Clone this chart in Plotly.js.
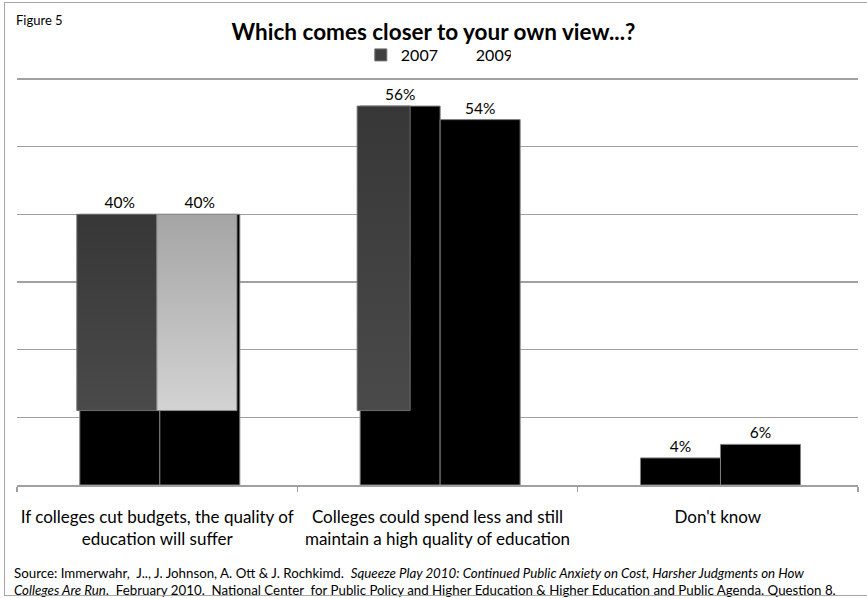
<!DOCTYPE html>
<html>
<head>
<meta charset="utf-8">
<script src="https://cdn.plot.ly/plotly-3.0.1.min.js"></script>
<style>
  html, body { margin: 0; padding: 0; background: #ffffff; overflow: hidden; }
  #frame { position: absolute; left: 4px; top: 2px; width: 900px; height: 592px;
           border-left: 1.5px solid #a6a6a6; border-top: 1.5px solid #a6a6a6; border-bottom: 1.5px solid #a6a6a6; pointer-events: none; z-index: 5; }
  #chart { position: absolute; left: 0; top: 0; width: 867px; height: 598px; }
</style>
</head>
<body>
<div id="chart"></div>
<div id="frame"></div>
<script>
// ---- data ----
const categories = [
  "If colleges cut budgets, the quality of<br>education will suffer",
  "Colleges could spend less and still<br>maintain a high quality of education",
  "Don't know"
];
const values2007 = [40, 56, 4];
const values2009 = [40, 54, 6];
const labels2007 = ["40%", "56%", "4%"];
const labels2009 = ["40%", "54%", "6%"];
// grey face panels visible in the original rendering (top value of each panel)
const face2007 = [40, 56, null];
const face2009 = [40, null, null];
const faceBase = 11;
const gridVals = [0, 10, 20, 30, 40, 50, 60];

const FONT = "Lato, 'Open Sans', 'DejaVu Sans', sans-serif";
const BW = 0.2854;
const heightAbove = (arr) => arr.map(v => (v == null ? null : v - faceBase));

const mainBar = (name, vals, txt, off) => ({
  type: 'bar', name: name, x: categories, y: vals,
  offset: off, width: BW,
  marker: { color: '#000000', line: { color: '#7f7f7f', width: 1 } },
  text: txt, textposition: 'outside', cliponaxis: false,
  textfont: { family: FONT, size: 15.5, color: '#000000' },
  showlegend: false, hoverinfo: 'skip'
});

const data = [
  mainBar('2007', values2007, labels2007, -0.276),
  mainBar('2009', values2009, labels2009, 0.0094),
  {
    type: 'bar', name: '2007', x: categories, y: heightAbove(face2007), base: faceBase,
    offset: -0.2865, width: [BW, 0.189, BW],
    marker: { color: '#404040', line: { color: '#6e6e6e', width: 1 } },
    showlegend: true, hoverinfo: 'skip'
  },
  {
    type: 'bar', name: '2009', x: categories, y: heightAbove(face2009), base: faceBase,
    offset: -0.001, width: BW,
    marker: { color: 'rgba(255,255,255,0)', line: { color: 'rgba(0,0,0,0)', width: 0 } },
    showlegend: true, hoverinfo: 'skip'
  }
];

const layout = {
  width: 867, height: 598,
  margin: { l: 17, r: 9, t: 78, b: 113 },
  paper_bgcolor: '#ffffff', plot_bgcolor: '#ffffff',
  barmode: 'overlay',
  font: { family: FONT, color: '#000000' },
  title: {
    text: '<b>Which comes closer to your own view...?</b>',
    font: { family: FONT, size: 22.5, color: '#000000' },
    x: 0.5, xref: 'container', xanchor: 'center',
    y: 1 - 32 / 598, yref: 'container', yanchor: 'middle'
  },
  showlegend: true,
  legend: {
    orientation: 'h', x: 0.498, xanchor: 'center', xref: 'paper',
    y: 1 + (78 - 55) / 407, yanchor: 'middle',
    font: { family: FONT, size: 16, color: '#000000' },
    itemwidth: 30, entrywidth: 30, entrywidthmode: 'pixels',
    traceorder: 'normal', bgcolor: 'rgba(0,0,0,0)'
  },
  xaxis: {
    type: 'category', range: [-0.5, 2.5], fixedrange: true,
    tickson: 'boundaries', ticks: 'outside', ticklen: 5, tickcolor: '#a0a0a0', tickwidth: 1.5,
    showline: true, linecolor: '#a0a0a0', linewidth: 1.5,
    showgrid: false, zeroline: false, tickangle: 0, automargin: false,
    tickfont: { family: FONT, size: 17, color: '#000000' },
    ticklabelstandoff: 16
  },
  yaxis: {
    range: [0, 60.15], fixedrange: true,
    tickvals: gridVals, showticklabels: false, ticks: '',
    showgrid: true, gridcolor: '#a0a0a0', gridwidth: 1.5,
    zeroline: false, showline: false
  },
  annotations: [
    {
      text: 'Figure 5', xref: 'paper', yref: 'paper',
      x: (14 - 17) / 841, y: 1 + (78 - 20) / 407, xanchor: 'left', yanchor: 'middle',
      showarrow: false, font: { family: FONT, size: 13, color: '#000000' }
    },
    {
      text: 'Source: Immerwahr,  J.., J. Johnson, A. Ott &amp; J. Rochkimd.  <i>Squeeze Play 2010: Continued Public Anxiety on Cost, Harsher Judgments on How</i><br><i>Colleges Are Run</i>.  February 2010.  National Center  for Public Policy and Higher Education &amp; Higher Education and Public Agenda. Question 8.',
      xref: 'paper', yref: 'paper', align: 'left',
      x: (12 - 17) / 841, y: -(581 - 485) / 407, xanchor: 'left', yanchor: 'middle',
      showarrow: false, font: { family: FONT, size: 13.3, color: '#000000' }
    }
  ]
};

Plotly.newPlot('chart', data, layout, { displayModeBar: false, staticPlot: true }).then(function (gd) {
  const svg = gd.querySelector('.main-svg');
  const NS = 'http://www.w3.org/2000/svg';
  const defs = document.createElementNS(NS, 'defs');
  function grad(id, c1, c2) {
    const g = document.createElementNS(NS, 'linearGradient');
    g.setAttribute('id', id);
    g.setAttribute('x1', '0'); g.setAttribute('y1', '0');
    g.setAttribute('x2', '0'); g.setAttribute('y2', '1');
    [[0, c1], [1, c2]].forEach(function (s) {
      const st = document.createElementNS(NS, 'stop');
      st.setAttribute('offset', s[0]);
      st.setAttribute('stop-color', s[1]);
      g.appendChild(st);
    });
    defs.appendChild(g);
  }
  grad('g2007', '#373737', '#4a4a4a');
  grad('g2009', '#a5a5a5', '#d3d3d3');
  svg.insertBefore(defs, svg.firstChild);
  const traces = gd.querySelectorAll('.barlayer .trace');
  if (traces[2]) traces[2].querySelectorAll('path').forEach(function (p) { p.style.fill = 'url(#g2007)'; });
  if (traces[3]) traces[3].querySelectorAll('path').forEach(function (p) {
    p.style.fill = 'url(#g2009)'; p.style.stroke = '#8a8a8a'; p.style.strokeWidth = '1px'; p.style.fillOpacity = '1'; p.style.strokeOpacity = '1';
  });
});
</script>
</body>
</html>
